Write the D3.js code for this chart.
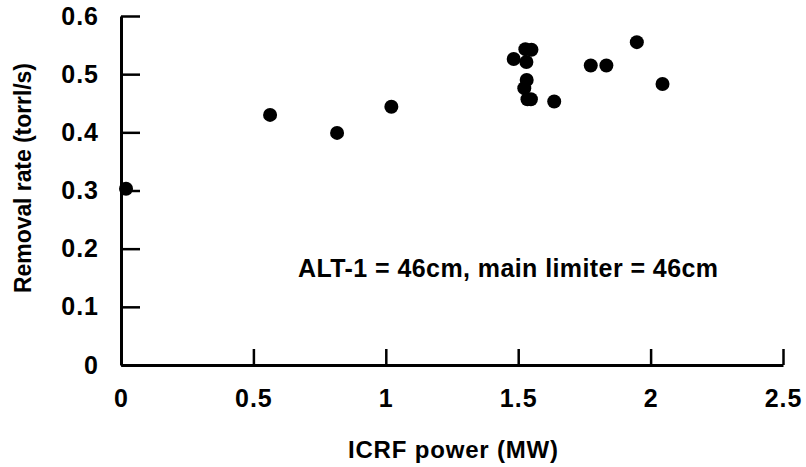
<!DOCTYPE html>
<html>
<head>
<meta charset="UTF-8" />
<title>Removal rate vs ICRF power</title>
<script src="https://cdn.jsdelivr.net/npm/d3@7"></script>
<style>
    body { margin: 0; background: #fff; }
    svg text { font-family: "Liberation Sans", Arial, sans-serif; fill: #000; }
</style>
</head>
<body>
<div id="chart"></div>
<script>
    // values
    const power = [0.019, 0.563, 0.816, 1.021, 1.483, 1.527, 1.550, 1.531, 1.532, 1.523, 1.535, 1.548, 1.636, 1.774, 1.833, 1.948, 2.045];
    const rate = [0.303, 0.430, 0.399, 0.444, 0.526, 0.543, 0.542, 0.521, 0.490, 0.476, 0.457, 0.457, 0.453, 0.515, 0.515, 0.555, 0.483];
    const xTicks = [0, 0.5, 1, 1.5, 2, 2.5];
    const yTicks = [0, 0.1, 0.2, 0.3, 0.4, 0.5, 0.6];
    const xTitle = 'ICRF power (MW)';
    const yTitle = 'Removal rate (torrl/s)';
    const note = 'ALT-1 = 46cm, main limiter = 46cm';

    const w = 806;
    const h = 467;

    const xScale = d3.scaleLinear().domain([0, 2.5]).range([121, 783]);
    const yScale = d3.scaleLinear().domain([0, 0.6]).range([365, 16]);

    const svg = d3.select('#chart')
        .append('svg')
        .attr('width', w)
        .attr('height', h);

    const xAxis = d3.axisBottom(xScale)
        .tickValues(xTicks)
        .tickFormat(d3.format('~g'))
        .tickSizeInner(-16)
        .tickSizeOuter(0)
        .tickPadding(24);

    const yAxis = d3.axisLeft(yScale)
        .tickValues(yTicks)
        .tickFormat(d3.format('~g'))
        .tickSizeInner(-19)
        .tickSizeOuter(0)
        .tickPadding(22);

    const gx = svg.append('g')
        .attr('transform', 'translate(0,' + yScale(0) + ')')
        .call(xAxis);

    const gy = svg.append('g')
        .attr('transform', 'translate(' + xScale(0) + ',0)')
        .call(yAxis);

    [gx, gy].forEach(g => {
        g.select('.domain').attr('stroke', '#000').attr('stroke-width', 3);
        g.selectAll('.tick line').attr('stroke', '#000').attr('stroke-width', 2.5);
        g.selectAll('.tick text')
            .style('font-size', '25px')
            .style('font-weight', 'bold')
            .style('letter-spacing', '1px');
    });

    svg.selectAll('circle')
        .data(power)
        .enter()
        .append('circle')
        .attr('cx', d => xScale(d))
        .attr('cy', (d, i) => yScale(rate[i]))
        .attr('r', 7)
        .attr('fill', '#000');

    svg.append('text')
        .attr('x', 453)
        .attr('y', 458)
        .attr('text-anchor', 'middle')
        .attr('textLength', 210)
        .style('font-size', '24px')
        .style('font-weight', 'bold')
        .text(xTitle);

    svg.append('text')
        .attr('transform', 'translate(31,178) rotate(-90)')
        .attr('text-anchor', 'middle')
        .attr('textLength', 230)
        .style('font-size', '23px')
        .style('font-weight', 'bold')
        .text(yTitle);

    svg.append('text')
        .attr('x', 508)
        .attr('y', 277)
        .attr('text-anchor', 'middle')
        .attr('textLength', 420)
        .style('font-size', '25px')
        .style('font-weight', 'bold')
        .text(note);
</script>
</body>
</html>
